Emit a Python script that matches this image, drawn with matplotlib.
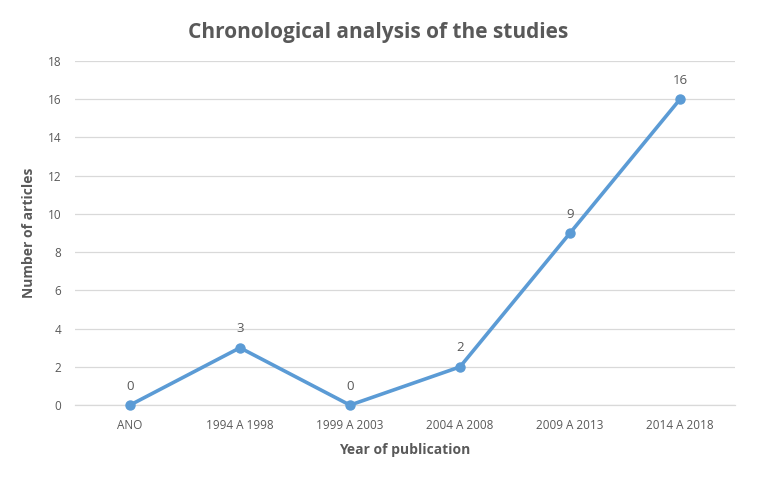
import matplotlib.pyplot as plt

PERIODS = ["ANO", "1994 A 1998", "1999 A 2003", "2004 A 2008", "2009 A 2013", "2014 A 2018"]
ARTICLES = [0, 3, 0, 2, 9, 16]
Y_TICKS = [0, 2, 4, 6, 8, 10, 12, 14, 16, 18]

TEXT_COLOR = "#595959"
LINE_COLOR = "#5B9BD5"

plt.rcParams["font.family"] = ["Open Sans", "DejaVu Sans"]

fig = plt.figure(figsize=(7.57, 4.80), dpi=100)
ax = fig.add_axes([0.099, 0.156, 0.872, 0.717])

x = list(range(len(PERIODS)))
ax.plot(x, ARTICLES, color=LINE_COLOR, linewidth=2.6, marker="o", markersize=6.5,
        clip_on=False, zorder=3)

for xi, v in zip(x, ARTICLES):
    ax.annotate(str(v), (xi, v), xytext=(0, 9), textcoords="offset points",
                ha="center", va="bottom", fontsize=9.5, color=TEXT_COLOR)

ax.set_xlim(-0.5, len(PERIODS) - 0.5)
ax.set_ylim(0, 18)
ax.set_xticks(x)
ax.set_xticklabels(PERIODS)
ax.set_yticks(Y_TICKS)
ax.tick_params(axis="both", length=0, labelsize=8.5, labelcolor=TEXT_COLOR, pad=10)

ax.grid(axis="y", color="#D9D9D9", linewidth=0.9)
ax.set_axisbelow(True)
for side in ["top", "right", "left"]:
    ax.spines[side].set_visible(False)
ax.spines["bottom"].set_color("#D9D9D9")
ax.spines["bottom"].set_linewidth(0.9)

ax.set_xlabel("Year of publication", fontsize=10, fontweight="bold", color=TEXT_COLOR, labelpad=8)
ax.set_ylabel("Number of articles", fontsize=10, fontweight="bold", color=TEXT_COLOR, labelpad=8)

fig.suptitle("Chronological analysis of the studies", x=0.5, y=0.955,
             fontsize=15, fontweight="bold", color=TEXT_COLOR)

fig.savefig("out.png", dpi=100)
